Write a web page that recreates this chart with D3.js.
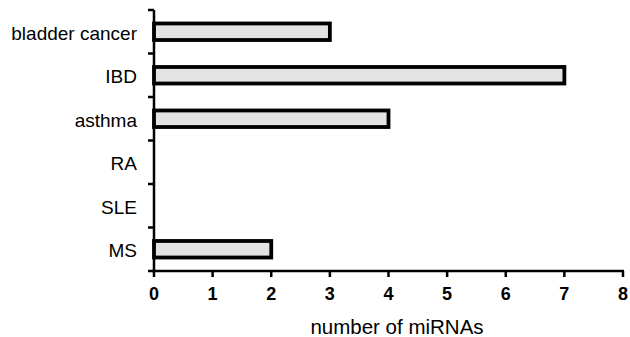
<!DOCTYPE html>
<html>
<head>
<meta charset="utf-8">
<script src="https://cdn.jsdelivr.net/npm/d3@7"></script>
<style>
  body { margin: 0; background: #fff; }
  text { font-family: "Liberation Sans", Arial, sans-serif; fill: #000; }
</style>
</head>
<body>
<script>
var categories = ['bladder cancer', 'IBD', 'asthma', 'RA', 'SLE', 'MS'];
var counts = [3, 7, 4, 0, 0, 2];
var xTicks = [0, 1, 2, 3, 4, 5, 6, 7, 8];

var width = 630, height = 337;
var plotLeft = 154, plotRight = 623, plotTop = 10, plotBottom = 271;

var svg = d3.select('body').append('svg')
  .attr('width', width)
  .attr('height', height);

var x = d3.scaleLinear().domain([0, 8]).range([plotLeft, plotRight]);
var y = d3.scaleBand().domain(categories).range([plotTop, plotBottom]).paddingInner(0.62).paddingOuter(0.31);

// bars
svg.selectAll('.bar')
    .data(categories.filter(function(d, i) { return counts[i] > 0; }))
  .enter()
    .append('rect')
    .attr('class', 'bar')
    .attr('x', x(0))
    .attr('y', function(d) { return y(d); })
    .attr('width', function(d) { return x(counts[categories.indexOf(d)]) - x(0); })
    .attr('height', y.bandwidth())
    .attr('fill', '#e3e3e3')
    .attr('stroke', '#000')
    .attr('stroke-width', 3.8);

// y axis: line + ticks on band boundaries
var yBound = d3.scaleLinear().domain([0, categories.length]).range([plotTop, plotBottom]);
var g = svg.append('g');
g.append('line')
  .attr('x1', plotLeft).attr('x2', plotLeft)
  .attr('y1', plotTop).attr('y2', plotBottom)
  .attr('stroke', '#000').attr('stroke-width', 2.5);
g.selectAll('.ytick')
    .data(d3.range(categories.length + 1))
  .enter()
    .append('line')
    .attr('x1', plotLeft - 6).attr('x2', plotLeft)
    .attr('y1', function(d) { return yBound(d); })
    .attr('y2', function(d) { return yBound(d); })
    .attr('stroke', '#000').attr('stroke-width', 2.5);
g.selectAll('.ylab')
    .data(categories)
  .enter()
    .append('text')
    .attr('x', 137)
    .attr('y', function(d, i) { return (yBound(i) + yBound(i + 1)) / 2 + 8; })
    .attr('text-anchor', 'end')
    .attr('font-size', 19)
    .text(function(d) { return d; });

// x axis
g.append('line')
  .attr('x1', plotLeft - 2).attr('x2', plotRight + 1)
  .attr('y1', plotBottom).attr('y2', plotBottom)
  .attr('stroke', '#000').attr('stroke-width', 2.5);
g.selectAll('.xtick')
    .data(xTicks)
  .enter()
    .append('line')
    .attr('x1', function(d) { return x(d); })
    .attr('x2', function(d) { return x(d); })
    .attr('y1', plotBottom).attr('y2', plotBottom + 6)
    .attr('stroke', '#000').attr('stroke-width', 2.5);
g.selectAll('.xlab')
    .data(xTicks)
  .enter()
    .append('text')
    .attr('x', function(d) { return x(d); })
    .attr('y', 300)
    .attr('text-anchor', 'middle')
    .attr('font-size', 18)
    .attr('font-weight', 'bold')
    .text(function(d) { return d; });

svg.append('text')
  .attr('x', 397)
  .attr('y', 334)
  .attr('text-anchor', 'middle')
  .attr('font-size', 20.5)
  .text('number of miRNAs');
</script>
</body>
</html>
